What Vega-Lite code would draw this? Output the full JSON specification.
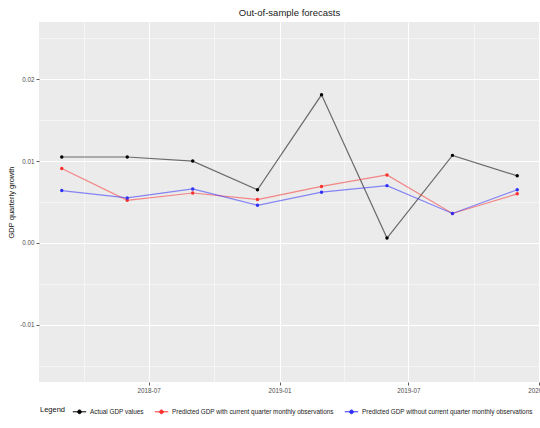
{
  "$schema": "https://vega.github.io/schema/vega-lite/v6.json",
  "width": 501,
  "height": 360,
  "autosize": {"type": "none"},
  "padding": {"left": 39, "top": 22, "right": 0, "bottom": 46},
  "background": "#FFFFFF",
  "title": {
    "text": "Out-of-sample forecasts",
    "anchor": "middle",
    "font": "Liberation Sans",
    "fontSize": 9.5,
    "fontWeight": "normal",
    "color": "#222222",
    "offset": 5
  },
  "config": {
    "view": {"fill": "#EBEBEB", "stroke": null},
    "axis": {
      "domain": false,
      "gridColor": "#FFFFFF",
      "tickColor": "#333333",
      "tickSize": 3,
      "tickWidth": 0.8,
      "labelColor": "#4D4D4D",
      "labelFont": "Liberation Sans",
      "labelFontSize": 6.3,
      "titleFont": "Liberation Sans",
      "titleFontWeight": "normal",
      "titleColor": "#111111",
      "titleFontSize": 7.5,
      "labelOverlap": false,
      "labelFlush": false,
      "labelBound": false
    }
  },
  "data": {
    "values": [
      {"date": "2018-03-01T00:00:00", "series": "Actual GDP values", "value": 0.0105},
      {"date": "2018-06-01T00:00:00", "series": "Actual GDP values", "value": 0.0105},
      {"date": "2018-09-01T00:00:00", "series": "Actual GDP values", "value": 0.0100},
      {"date": "2018-12-01T00:00:00", "series": "Actual GDP values", "value": 0.0065},
      {"date": "2019-03-01T00:00:00", "series": "Actual GDP values", "value": 0.0181},
      {"date": "2019-06-01T00:00:00", "series": "Actual GDP values", "value": 0.0006},
      {"date": "2019-09-01T00:00:00", "series": "Actual GDP values", "value": 0.0107},
      {"date": "2019-12-01T00:00:00", "series": "Actual GDP values", "value": 0.0082},
      {"date": "2018-03-01T00:00:00", "series": "Predicted GDP with current quarter monthly observations", "value": 0.0091},
      {"date": "2018-06-01T00:00:00", "series": "Predicted GDP with current quarter monthly observations", "value": 0.0052},
      {"date": "2018-09-01T00:00:00", "series": "Predicted GDP with current quarter monthly observations", "value": 0.0061},
      {"date": "2018-12-01T00:00:00", "series": "Predicted GDP with current quarter monthly observations", "value": 0.0053},
      {"date": "2019-03-01T00:00:00", "series": "Predicted GDP with current quarter monthly observations", "value": 0.0069},
      {"date": "2019-06-01T00:00:00", "series": "Predicted GDP with current quarter monthly observations", "value": 0.0083},
      {"date": "2019-09-01T00:00:00", "series": "Predicted GDP with current quarter monthly observations", "value": 0.0036},
      {"date": "2019-12-01T00:00:00", "series": "Predicted GDP with current quarter monthly observations", "value": 0.0060},
      {"date": "2018-03-01T00:00:00", "series": "Predicted GDP without current quarter monthly observations", "value": 0.0064},
      {"date": "2018-06-01T00:00:00", "series": "Predicted GDP without current quarter monthly observations", "value": 0.0055},
      {"date": "2018-09-01T00:00:00", "series": "Predicted GDP without current quarter monthly observations", "value": 0.0066},
      {"date": "2018-12-01T00:00:00", "series": "Predicted GDP without current quarter monthly observations", "value": 0.0046},
      {"date": "2019-03-01T00:00:00", "series": "Predicted GDP without current quarter monthly observations", "value": 0.0062},
      {"date": "2019-06-01T00:00:00", "series": "Predicted GDP without current quarter monthly observations", "value": 0.0070},
      {"date": "2019-09-01T00:00:00", "series": "Predicted GDP without current quarter monthly observations", "value": 0.0036},
      {"date": "2019-12-01T00:00:00", "series": "Predicted GDP without current quarter monthly observations", "value": 0.0065}
    ]
  },
  "encoding": {
    "x": {
      "field": "date",
      "type": "temporal",
      "title": null,
      "scale": {
        "domain": [{"year": 2018, "month": 1, "date": 28}, {"year": 2020, "month": 1, "date": 2}],
        "nice": false
      },
      "axis": {
        "values": [
          {"year": 2018, "month": 4, "date": 1},
          {"year": 2018, "month": 7, "date": 1},
          {"year": 2018, "month": 10, "date": 1},
          {"year": 2019, "month": 1, "date": 1},
          {"year": 2019, "month": 4, "date": 1},
          {"year": 2019, "month": 7, "date": 1},
          {"year": 2019, "month": 10, "date": 1},
          {"year": 2020, "month": 1, "date": 1}
        ],
        "format": "%Y-%m",
        "labelExpr": "month(datum.value) % 6 == 0 ? datum.label : ''",
        "labelPadding": 2,
        "gridWidth": {"condition": {"test": "month(datum.value) % 6 == 0", "value": 1}, "value": 0.5},
        "tickOpacity": {"condition": {"test": "month(datum.value) % 6 == 0", "value": 1}, "value": 0}
      }
    },
    "y": {
      "field": "value",
      "type": "quantitative",
      "title": "GDP quarterly growth",
      "scale": {"domain": [-0.017, 0.027], "nice": false, "zero": false},
      "axis": {
        "values": [-0.015, -0.01, -0.005, 0, 0.005, 0.01, 0.015, 0.02, 0.025],
        "format": ".2f",
        "labelExpr": "abs(datum.value*100 - round(datum.value*100)) < 0.001 ? replace(datum.label, '\u2212', '-') : ''",
        "labelPadding": 2,
        "titlePadding": 4,
        "gridWidth": {"condition": {"test": "abs(datum.value*100 - round(datum.value*100)) < 0.001", "value": 1}, "value": 0.5},
        "tickOpacity": {"condition": {"test": "abs(datum.value*100 - round(datum.value*100)) < 0.001", "value": 1}, "value": 0}
      }
    },
    "color": {
      "field": "series",
      "type": "nominal",
      "scale": {
        "domain": ["Actual GDP values", "Predicted GDP with current quarter monthly observations", "Predicted GDP without current quarter monthly observations"],
        "range": ["#000000", "#F8312F", "#3030F8"]
      },
      "legend": {
        "title": "Legend",
        "orient": "none",
        "legendX": 1,
        "legendY": 382,
        "direction": "horizontal",
        "titleOrient": "left",
        "titleFont": "Liberation Sans",
        "titleFontSize": 7.5,
        "titleFontWeight": "normal",
        "titleColor": "#111111",
        "titlePadding": 6,
        "labelFont": "Liberation Sans",
        "labelFontSize": 6.4,
        "labelColor": "#222222",
        "labelLimit": 0,
        "labelOffset": 3,
        "columnPadding": 8,
        "symbolType": "M-1,0H1M-0.28,0A0.28,0.28,0,1,1,0.28,0A0.28,0.28,0,1,1,-0.28,0Z",
        "symbolSize": 180,
        "symbolStrokeWidth": 1,
        "symbolOpacity": 1
      }
    }
  },
  "layer": [
    {"mark": {"type": "line", "strokeWidth": 1.2, "opacity": 0.55}},
    {"mark": {"type": "point", "filled": true, "size": 12, "opacity": 1}}
  ]
}
